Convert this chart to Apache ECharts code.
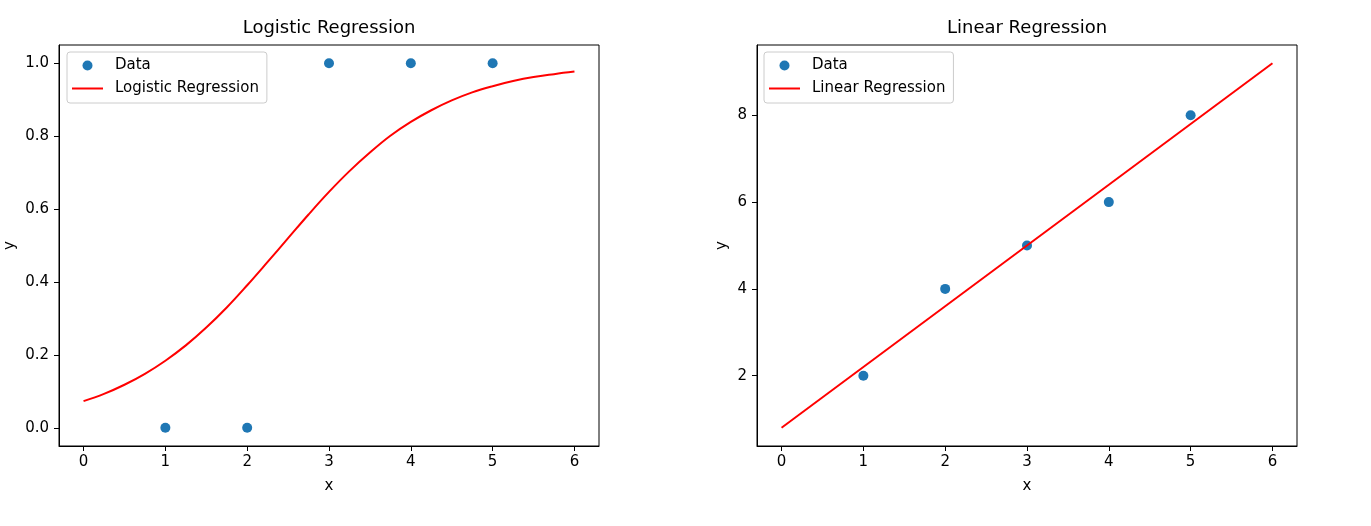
<!DOCTYPE html>
<html>
<head>
<meta charset="utf-8">
<script src="https://cdn.jsdelivr.net/npm/echarts@6/dist/echarts.min.js"></script>
<style>
html,body{margin:0;padding:0;background:#fff;}
#chart{width:1371px;height:526px;}
</style>
</head>
<body>
<div id="chart"></div>
<script>
// ---- data ----
const xTicks = [0, 1, 2, 3, 4, 5, 6];
const logYTicks = [0, 0.2, 0.4, 0.6, 0.8, 1.0];
const linYTicks = [2, 4, 6, 8];

const dataX = [1, 2, 3, 4, 5];
const logDataY = [0, 0, 1, 1, 1];
const linDataY = [2, 4, 5, 6, 8];

const curveX = [0, 0.25, 0.5, 0.75, 1, 1.25, 1.5, 1.75, 2, 2.25, 2.5, 2.75, 3,
                3.25, 3.5, 3.75, 4, 4.25, 4.5, 4.75, 5, 5.25, 5.5, 5.75, 6];
const logCurveY = [0.073, 0.093, 0.118, 0.148, 0.184, 0.226, 0.275, 0.330, 0.391,
                   0.455, 0.520, 0.585, 0.647, 0.704, 0.755, 0.801, 0.839, 0.871,
                   0.898, 0.920, 0.937, 0.951, 0.962, 0.970, 0.977];

const linLineX = [0, 6];
const linLineY = [0.8, 9.2];

// ---- styling ----
const FONT = 'DejaVu Sans';
const FS = 15;
const TFS = 18;
const BLUE = '#1f77b4';
const RED = '#ff0000';

function pairs(xs, ys) { return xs.map((x, i) => [x, ys[i]]); }

function xAxisFor(gridIndex) {
  return {
    type: 'value', gridIndex, min: -0.3, max: 6.3,
    name: 'x', nameLocation: 'middle', nameGap: 33,
    nameTextStyle: { fontFamily: FONT, fontSize: FS, color: '#000' },
    axisLine: { show: true, onZero: false, lineStyle: { color: '#000', width: 1 } },
    axisTick: { show: true, customValues: xTicks, length: 5, lineStyle: { color: '#000', width: 1 } },
    axisLabel: { customValues: xTicks, margin: 9, fontFamily: FONT, fontSize: FS, color: '#000' },
    splitLine: { show: false }
  };
}
function yAxisFor(gridIndex, min, max, ticks, fmt, gap) {
  return {
    type: 'value', gridIndex, min, max,
    name: 'y', nameLocation: 'middle', nameGap: gap,
    nameTextStyle: { fontFamily: FONT, fontSize: FS, color: '#000' },
    axisLine: { show: true, onZero: false, lineStyle: { color: '#000', width: 1 } },
    axisTick: { show: true, customValues: ticks, length: 5, lineStyle: { color: '#000', width: 1 } },
    axisLabel: { customValues: ticks, margin: 10, fontFamily: FONT, fontSize: FS, color: '#000', formatter: fmt },
    splitLine: { show: false }
  };
}
function legendFor(left, lineName) {
  return {
    left, top: 52, orient: 'vertical',
    padding: [6, 8, 7, 5],
    itemGap: 8, itemWidth: 31, itemHeight: 10,
    backgroundColor: 'rgba(255,255,255,0.8)',
    borderColor: '#cccccc', borderWidth: 1, borderRadius: 3,
    textStyle: { fontFamily: FONT, fontSize: FS, color: '#000', padding: [0, 0, 0, 7] },
    data: [
      { name: 'Data', icon: 'circle' },
      { name: lineName, icon: 'path://M0 0H31V2H0Z' }
    ],
    selectedMode: false
  };
}

const chart = echarts.init(document.getElementById('chart'), null, { renderer: 'canvas' });
chart.setOption({
  animation: false,
  backgroundColor: '#fff',
  title: [
    { text: 'Logistic Regression', left: 329, top: 19, textAlign: 'center', padding: 0,
      textStyle: { fontFamily: FONT, fontSize: TFS, fontWeight: 'normal', color: '#000' } },
    { text: 'Linear Regression', left: 1027, top: 19, textAlign: 'center', padding: 0,
      textStyle: { fontFamily: FONT, fontSize: TFS, fontWeight: 'normal', color: '#000' } }
  ],
  legend: [legendFor(67, 'Logistic Regression'), legendFor(764, 'Linear Regression')],
  grid: [
    { left: 59, top: 45, width: 540, height: 401, show: true, borderColor: '#000', borderWidth: 1, backgroundColor: 'transparent' },
    { left: 757, top: 45, width: 540, height: 401, show: true, borderColor: '#000', borderWidth: 1, backgroundColor: 'transparent' }
  ],
  xAxis: [xAxisFor(0), xAxisFor(1)],
  yAxis: [
    yAxisFor(0, -0.05, 1.05, logYTicks, v => v.toFixed(1), 41),
    yAxisFor(1, 0.38, 9.62, linYTicks, v => String(v), 27)
  ],
  series: [
    { name: 'Data', type: 'scatter', xAxisIndex: 0, yAxisIndex: 0, symbolSize: 10,
      itemStyle: { color: BLUE, opacity: 1 }, data: pairs(dataX, logDataY) },
    { name: 'Logistic Regression', type: 'line', xAxisIndex: 0, yAxisIndex: 0,
      showSymbol: false, smooth: 0.4,
      lineStyle: { color: RED, width: 2 }, itemStyle: { color: RED },
      data: pairs(curveX, logCurveY) },
    { name: 'Data', type: 'scatter', xAxisIndex: 1, yAxisIndex: 1, symbolSize: 10,
      itemStyle: { color: BLUE, opacity: 1 }, data: pairs(dataX, linDataY) },
    { name: 'Linear Regression', type: 'line', xAxisIndex: 1, yAxisIndex: 1,
      showSymbol: false, lineStyle: { color: RED, width: 2 }, itemStyle: { color: RED },
      data: pairs(linLineX, linLineY) }
  ]
});
</script>
</body>
</html>
